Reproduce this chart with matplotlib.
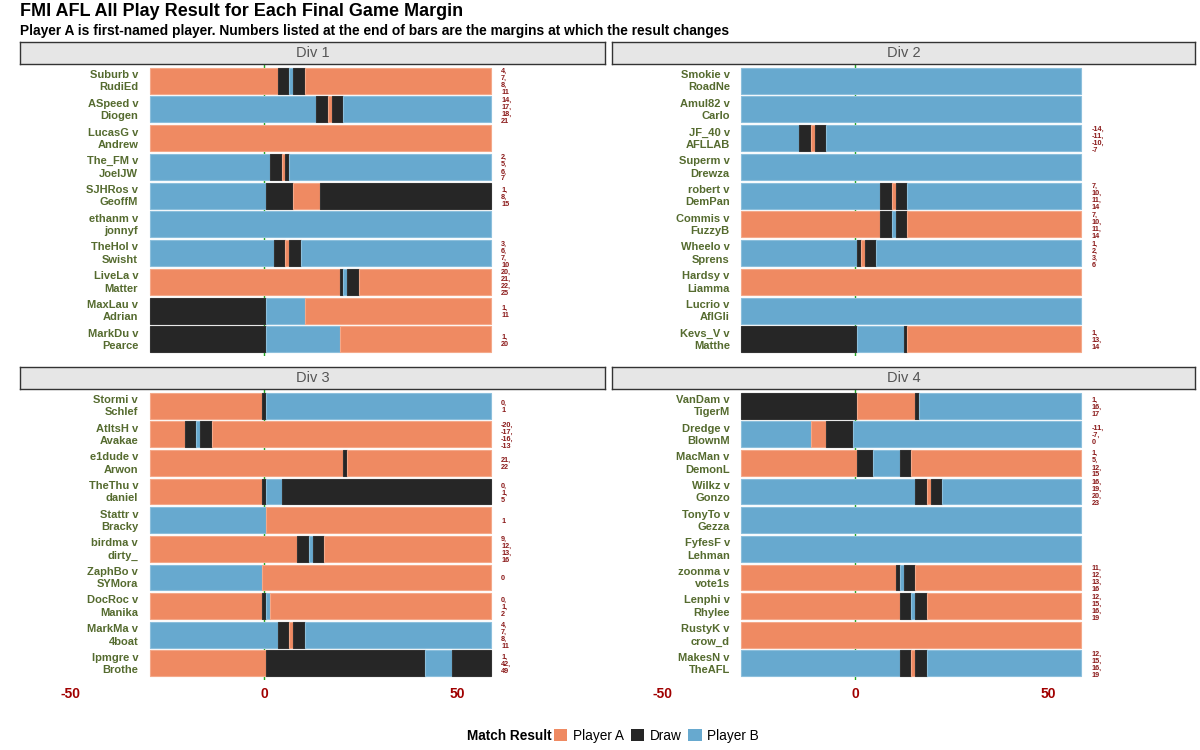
import matplotlib
matplotlib.use("Agg")
import matplotlib.pyplot as plt
from matplotlib.patches import Patch

plt.rcParams['font.family'] = ['Liberation Sans', 'DejaVu Sans']

# ---------------- data ----------------
margin_min = -29
margin_max = 58

div1_a = ["Suburb", "ASpeed", "LucasG", "The_FM", "SJHRos", "ethanm", "TheHol", "LiveLa", "MaxLau", "MarkDu"]
div1_b = ["RudiEd", "Diogen", "Andrew", "JoelJW", "GeoffM", "jonnyf", "Swisht", "Matter", "Adrian", "Pearce"]
div1_changes = [[4, 7, 8, 11], [14, 17, 18, 21], [], [2, 5, 6, 7], [1, 8, 15], [],
                [3, 6, 7, 10], [20, 21, 22, 25], [1, 11], [1, 20]]
div1_results = ["ADBDA", "BDADB", "A", "BDADB", "BDAD", "B", "BDADB", "ADBDA", "DBA", "DBA"]

div2_a = ["Smokie", "Amul82", "JF_40", "Superm", "robert", "Commis", "Wheelo", "Hardsy", "Lucrio", "Kevs_V"]
div2_b = ["RoadNe", "Carlo", "AFLLAB", "Drewza", "DemPan", "FuzzyB", "Sprens", "Liamma", "AflGli", "Matthe"]
div2_changes = [[], [], [-14, -11, -10, -7], [], [7, 10, 11, 14], [7, 10, 11, 14],
                [1, 2, 3, 6], [], [], [1, 13, 14]]
div2_results = ["B", "B", "BDADB", "B", "BDADB", "ADBDA", "BDADB", "A", "B", "DBDA"]

div3_a = ["Stormi", "AtltsH", "e1dude", "TheThu", "Stattr", "birdma", "ZaphBo", "DocRoc", "MarkMa", "Ipmgre"]
div3_b = ["Schlef", "Avakae", "Arwon", "daniel", "Bracky", "dirty_", "SYMora", "Manika", "4boat", "Brothe"]
div3_changes = [[0, 1], [-20, -17, -16, -13], [21, 22], [0, 1, 5], [1], [9, 12, 13, 16],
                [0], [0, 1, 2], [4, 7, 8, 11], [1, 42, 49]]
div3_results = ["ADB", "ADBDA", "ADA", "ADBD", "BA", "ADBDA", "BA", "ADBA", "BDADB", "ADBD"]

div4_a = ["VanDam", "Dredge", "MacMan", "Wilkz", "TonyTo", "FyfesF", "zoonma", "Lenphi", "RustyK", "MakesN"]
div4_b = ["TigerM", "BlownM", "DemonL", "Gonzo", "Gezza", "Lehman", "vote1s", "Rhylee", "crow_d", "TheAFL"]
div4_changes = [[1, 16, 17], [-11, -7, 0], [1, 5, 12, 15], [16, 19, 20, 23], [], [],
                [11, 12, 13, 16], [12, 15, 16, 19], [], [12, 15, 16, 19]]
div4_results = ["DADB", "BADB", "ADBDA", "BDADB", "B", "B", "ADBDA", "ADBDA", "A", "BDADB"]

div_titles = ["Div 1", "Div 2", "Div 3", "Div 4"]
x_ticks = [-50, 0, 50]
result_labels = {"A": "Player A", "D": "Draw", "B": "Player B"}

# ---------------- style ----------------
colors = {"A": "#ef8a62", "D": "#262626", "B": "#67a9cf"}
edges = {"A": "#f4a98a", "D": "#333333", "B": "#8cbfdc"}
name_color = "#556b2f"
num_color = "#8b1a1a"
tick_color = "#a00000"

fig = plt.figure(figsize=(12, 7.5), dpi=100)

W, H = 1200.0, 750.0
def fx(px):
    return px / W
def fy(py):
    return 1 - py / H

panels = [
    (20, 605, 64, 356, 42),
    (612, 1195, 64, 356, 42),
    (20, 605, 389, 680, 367),
    (612, 1195, 389, 680, 367),
]
divs = [
    (div1_a, div1_b, div1_changes, div1_results),
    (div2_a, div2_b, div2_changes, div2_results),
    (div3_a, div3_b, div3_changes, div3_results),
    (div4_a, div4_b, div4_changes, div4_results),
]

for k, ((x0, x1, y0, y1, ys), (pa, pb, chg, res)) in enumerate(zip(panels, divs)):
    ax = fig.add_axes([fx(x0), fy(y1), fx(x1) - fx(x0), fy(y0) - fy(y1)])
    ax.set_xlim(-63, 88)
    n = len(pa)
    ax.set_ylim(n - 0.5 + 0.08, -0.5 - 0.08)
    ax.axvline(0, color="#22a822", lw=1.0, zorder=0)
    for i in range(n):
        bounds = [margin_min - 0.5] + [c - 0.5 for c in chg[i]] + [margin_max + 0.5]
        for j, r in enumerate(res[i]):
            ax.barh(i, bounds[j + 1] - bounds[j], left=bounds[j], height=0.9,
                    color=colors[r], edgecolor=edges[r], linewidth=0.8, zorder=2)
        ax.text(-32.5, i + 0.02, f"{pa[i]} v\n{pb[i]}", ha="right", va="center",
                fontsize=8, fontweight="bold", color=name_color, linespacing=1.3)
        if chg[i]:
            ax.text(61.2, i + 0.05, ",\n".join(str(c) for c in chg[i]), ha="left", va="center",
                    fontsize=5.2, fontweight="bold", color=num_color, linespacing=1.02)
    for s in ax.spines.values():
        s.set_visible(False)
    ax.set_yticks([])
    ax.tick_params(axis="x", length=0)
    if k >= 2:
        ax.set_xticks(x_ticks)
        ax.set_xticklabels([str(t) for t in x_ticks], fontsize=10, fontweight="bold", color=tick_color)
        ax.tick_params(axis="x", pad=5)
    else:
        ax.set_xticks([])
    # strip
    sax = fig.add_axes([fx(x0), fy(y0), fx(x1) - fx(x0), fy(ys) - fy(y0)])
    sax.set_facecolor("#e6e6e6")
    sax.set_xticks([])
    sax.set_yticks([])
    for s in sax.spines.values():
        s.set_color("#333333")
        s.set_linewidth(1.0)
    sax.text(0.5, 0.5, div_titles[k], ha="center", va="center", fontsize=10.5,
             color="#555555", transform=sax.transAxes)

fig.text(fx(20), fy(12), "FMI AFL All Play Result for Each Final Game Margin",
         fontsize=13.0, fontweight="bold", ha="left", va="center")
fig.text(fx(20), fy(31), "Player A is first-named player. Numbers listed at the end of bars are the margins at which the result changes",
         fontsize=9.9, fontweight="bold", ha="left", va="center")

fig.text(fx(552), fy(736), "Match Result", fontsize=9.8, fontweight="bold", ha="right", va="center")
handles = [Patch(facecolor=colors[r], edgecolor="none", label=result_labels[r]) for r in "ADB"]
fig.legend(handles=handles, loc="center left", bbox_to_anchor=(fx(551), fy(736)), ncol=3,
           frameon=False, fontsize=9.8, handlelength=1.0, handleheight=1.0,
           handletextpad=0.4, columnspacing=0.5, borderaxespad=0, borderpad=0.2)

fig.savefig("out.png", dpi=100)
